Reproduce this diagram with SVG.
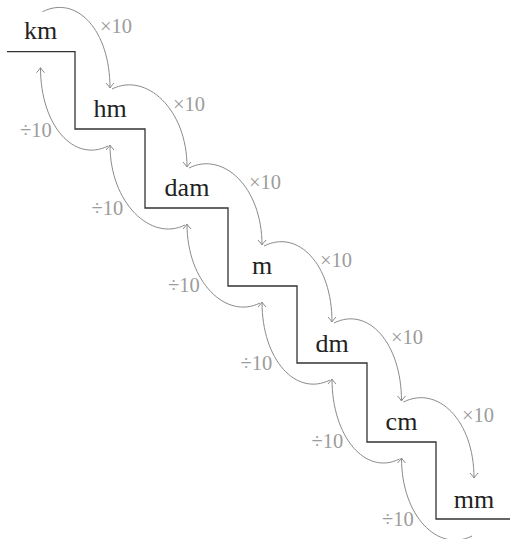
<svg xmlns="http://www.w3.org/2000/svg" width="510" height="539" viewBox="0 0 510 539">
  <style>
    .unit { font-family: "Liberation Serif", "DejaVu Serif", serif; font-size: 26px; fill: #222; text-anchor: middle; }
    .op { font-family: "Liberation Serif", "DejaVu Serif", serif; font-size: 20.5px; fill: #9c9c9c; text-anchor: middle; }
    .arc { fill: none; stroke: #8a8a8a; stroke-width: 1; marker-end: url(#tip); }
    .stair { fill: none; stroke: #333; stroke-width: 1.3; }
  </style>
  <defs>
    <marker id="tip" markerUnits="userSpaceOnUse" markerWidth="12" markerHeight="12" viewBox="-6 -6 12 12" refX="0" refY="0" orient="auto">
      <path d="M -5,-4 Q -1.5,-0.8 0,0 Q -1.5,0.8 -5,4" fill="none" stroke="#8a8a8a" stroke-width="1"/>
    </marker>
  </defs>
  <rect width="510" height="539" fill="#fff"/>
  <g id="staircase">
    <path class="stair" d="M7,51.7 H75 V129 H145 V208 H228 V286 H297 V363 H367 V442 H436 V519 H510"/>
  </g>
  <g id="connectors">
    <path class="arc" d="M42.5,11.7 C76.5,-5.3 110,30 110,88"/>
    <path class="arc" d="M112,89 C146,72 187,109 187,167"/>
    <path class="arc" d="M189,168 C223,151 262,187 262,245"/>
    <path class="arc" d="M264,246 C298,229 332,264 332,322"/>
    <path class="arc" d="M334,323 C368,306 401.5,343 401.5,401"/>
    <path class="arc" d="M403.5,402 C437.5,385 474,420 474,478"/>
    <path class="arc" d="M108,146 C74,163 40.5,125.7 40.5,67.7"/>
    <path class="arc" d="M185,225 C151,242 110,203 110,145"/>
    <path class="arc" d="M260,303 C226,320 187,282 187,224"/>
    <path class="arc" d="M330,380 C296,397 262,360 262,302"/>
    <path class="arc" d="M399.5,459 C365.5,476 332,437 332,379"/>
    <path class="arc" d="M472,536 C438,553 401.5,516 401.5,458"/>
    <g id="labels-multiply">
      <text class="op" x="116" y="33">×10</text>
      <text class="op" x="189" y="111">×10</text>
      <text class="op" x="265" y="189">×10</text>
      <text class="op" x="336" y="267">×10</text>
      <text class="op" x="407" y="344">×10</text>
      <text class="op" x="478" y="422">×10</text>
    </g>
    <g id="labels-divide">
      <text class="op" x="36" y="137">÷10</text>
      <text class="op" x="107.5" y="215">÷10</text>
      <text class="op" x="184" y="292">÷10</text>
      <text class="op" x="256.5" y="370">÷10</text>
      <text class="op" x="327.5" y="448">÷10</text>
      <text class="op" x="398" y="526">÷10</text>
    </g>
  </g>
  <g id="km"><text class="unit" x="40.5" y="39">km</text></g>
  <g id="hm"><text class="unit" x="110" y="117">hm</text></g>
  <g id="dam"><text class="unit" x="187" y="196">dam</text></g>
  <g id="m"><text class="unit" x="262" y="274">m</text></g>
  <g id="dm"><text class="unit" x="332" y="351.5">dm</text></g>
  <g id="cm"><text class="unit" x="401.5" y="430">cm</text></g>
  <g id="mm"><text class="unit" x="474" y="507.5">mm</text></g>
</svg>
